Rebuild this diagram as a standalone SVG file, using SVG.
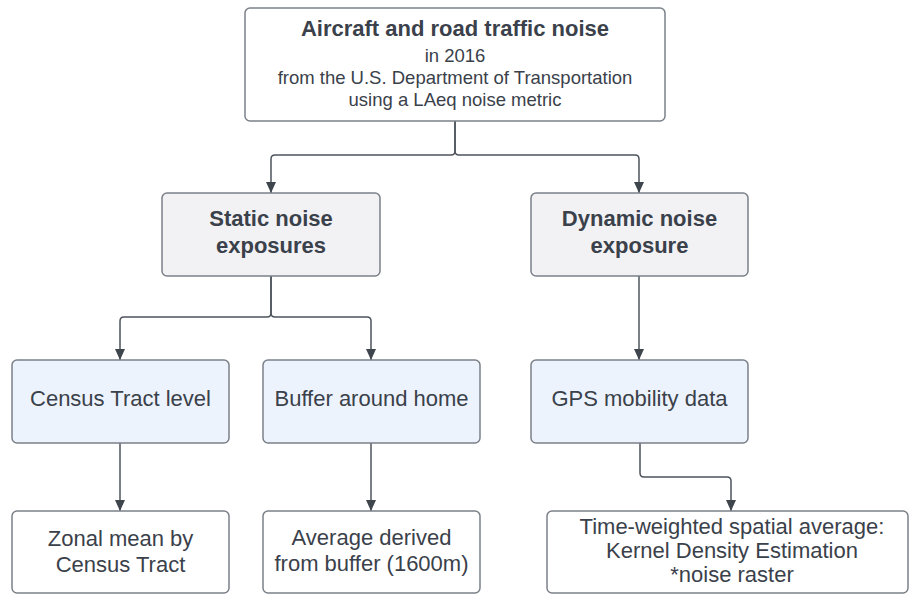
<svg xmlns="http://www.w3.org/2000/svg" width="910" height="595" viewBox="0 0 910 595">
  <style>
    .box { stroke: #7b8089; stroke-width: 1.5; }
    .white { fill: #ffffff; }
    .gray { fill: #f2f2f5; }
    .blue { fill: #edf3fd; }
    .t { font-family: "Liberation Sans", Arial, sans-serif; fill: #3a414a; text-anchor: middle; }
    .b { font-weight: bold; font-size: 22px; }
    .r { font-size: 22px; }
    .s { font-size: 18.5px; }
    .conn { fill: none; stroke: #4e545c; stroke-width: 1.5; marker-end: url(#arrow); }
  </style>
  <defs>
    <marker id="arrow" markerUnits="userSpaceOnUse" markerWidth="12" markerHeight="12" refX="11" refY="5" orient="auto">
      <path d="M0,0 L11,5 L0,10 z" fill="#3f454d"/>
    </marker>
  </defs>
  <rect width="910" height="595" fill="#ffffff"/>

  <g id="connectors">
    <path class="conn" d="M455,121 V151 Q455,155 451,155 H275 Q271,155 271,159 V193"/>
    <path class="conn" d="M455,121 V151 Q455,155 459,155 H635 Q639,155 639,159 V193"/>
    <path class="conn" d="M271,276 V313 Q271,317 267,317 H124 Q120,317 120,321 V360"/>
    <path class="conn" d="M271,276 V313 Q271,317 275,317 H367 Q371,317 371,321 V360"/>
    <path class="conn" d="M639,276 V360"/>
    <path class="conn" d="M120,443 V511"/>
    <path class="conn" d="M371,443 V511"/>
    <path class="conn" d="M640,443 V473 Q640,477 644,477 H727 Q731,477 731,481 V511"/>
  </g>

  <g id="source">
    <rect class="box white" x="245" y="8" width="420" height="113" rx="5"/>
    <text class="t b" x="455" y="36">Aircraft and road traffic noise</text>
    <text class="t s" x="455" y="62">in 2016</text>
    <text class="t s" x="455" y="84">from the U.S. Department of Transportation</text>
    <text class="t s" x="455" y="106">using a LAeq noise metric</text>
  </g>

  <g id="static">
    <rect class="box gray" x="162" y="193" width="218" height="83" rx="5"/>
    <text class="t b" x="271" y="226">Static noise</text>
    <text class="t b" x="271" y="253">exposures</text>
  </g>

  <g id="dynamic">
    <rect class="box gray" x="531" y="193" width="217" height="83" rx="5"/>
    <text class="t b" x="639.5" y="226">Dynamic noise</text>
    <text class="t b" x="639.5" y="253">exposure</text>
  </g>

  <g id="census">
    <rect class="box blue" x="12" y="360" width="217" height="83" rx="5"/>
    <text class="t r" x="120.5" y="406">Census Tract level</text>
  </g>

  <g id="buffer">
    <rect class="box blue" x="263" y="360" width="217" height="83" rx="5"/>
    <text class="t r" x="371.5" y="406">Buffer around home</text>
  </g>

  <g id="gps">
    <rect class="box blue" x="531" y="360" width="217" height="83" rx="5"/>
    <text class="t r" x="639.5" y="406">GPS mobility data</text>
  </g>

  <g id="zonal">
    <rect class="box white" x="12" y="511" width="217" height="82" rx="5"/>
    <text class="t r" x="120.5" y="546">Zonal mean by</text>
    <text class="t r" x="120.5" y="572">Census Tract</text>
  </g>

  <g id="average">
    <rect class="box white" x="263" y="511" width="217" height="82" rx="5"/>
    <text class="t r" x="371.5" y="545">Average derived</text>
    <text class="t r" x="371.5" y="571">from buffer (1600m)</text>
  </g>

  <g id="kde">
    <rect class="box white" x="547" y="511" width="361" height="82" rx="5"/>
    <text class="t r" x="732" y="534">Time-weighted spatial average:</text>
    <text class="t r" x="732" y="558">Kernel Density Estimation</text>
    <text class="t r" x="732" y="582">*noise raster</text>
  </g>
</svg>
